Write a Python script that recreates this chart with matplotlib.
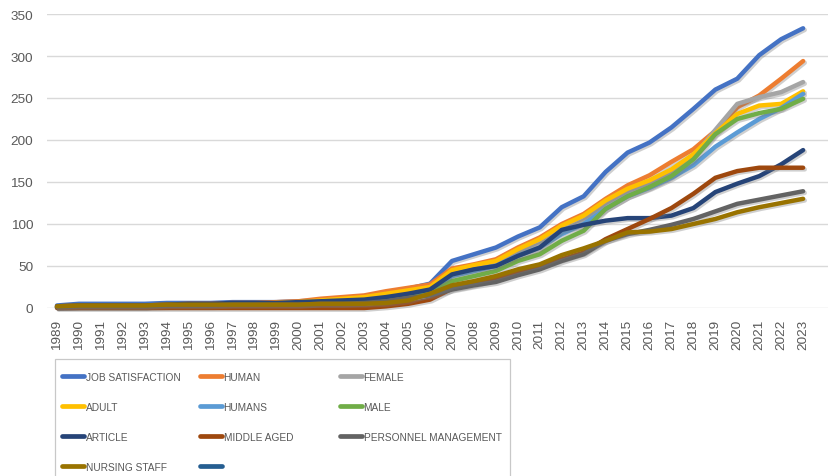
import numpy as np
import matplotlib
matplotlib.use("Agg")
import matplotlib.pyplot as plt
import matplotlib.patheffects as pe
from matplotlib.lines import Line2D
from matplotlib.patches import Rectangle

# === Data ===
years = list(range(1989, 2024))

job_satisfaction = [3, 5, 5, 5, 5, 6, 6, 6, 7, 7, 7, 8, 9, 10, 11, 17, 23, 29,
                    56, 64, 72, 85, 96, 120, 133, 162, 185, 197, 215, 237, 260, 273, 301, 320, 333]
human = [2, 3, 3, 3, 3, 4, 5, 5, 6, 6, 7, 8, 11, 13, 15, 20, 24, 28,
         47, 52, 58, 72, 84, 100, 112, 130, 146, 158, 174, 189, 211, 239, 253, 273, 294]
female = [1, 2, 2, 2, 2, 3, 3, 3, 4, 4, 4, 5, 6, 7, 8, 12, 16, 22,
          43, 49, 54, 66, 76, 92, 104, 124, 138, 148, 162, 180, 212, 243, 251, 257, 269]
adult = [1, 2, 2, 2, 2, 3, 3, 4, 5, 5, 6, 7, 9, 11, 13, 17, 21, 25,
         45, 51, 56, 70, 82, 98, 110, 128, 142, 152, 165, 183, 208, 231, 241, 243, 258]
humans = [1, 2, 2, 2, 2, 3, 3, 3, 4, 4, 4, 5, 6, 7, 8, 12, 16, 20,
          38, 44, 50, 62, 72, 88, 100, 118, 133, 143, 155, 170, 192, 209, 225, 238, 255]
male = [1, 1, 1, 1, 1, 2, 2, 2, 3, 3, 3, 4, 5, 6, 7, 10, 14, 19,
        32, 38, 44, 56, 64, 80, 92, 118, 133, 144, 157, 177, 207, 225, 232, 237, 249]
article = [2, 3, 3, 3, 3, 4, 5, 5, 6, 6, 6, 7, 8, 9, 10, 13, 17, 22,
           40, 46, 50, 62, 72, 93, 99, 104, 107, 107, 110, 119, 138, 148, 157, 171, 188]
middle_aged = [0, 0, 0, 0, 0, 0, 0, 0, 0, 0, 0, 0, 0, 0, 0, 2, 5, 10,
               23, 28, 35, 43, 50, 58, 66, 82, 94, 106, 119, 136, 155, 163, 167, 167, 167]
personnel_mgmt = [1, 2, 2, 2, 2, 3, 3, 3, 4, 4, 4, 4, 5, 5, 6, 8, 12, 15,
                  22, 27, 31, 39, 46, 56, 64, 80, 88, 93, 99, 106, 115, 124, 129, 134, 139]
nursing_staff = [2, 3, 3, 3, 3, 4, 4, 4, 4, 4, 4, 4, 5, 5, 5, 6, 9, 17,
                 27, 32, 38, 46, 52, 63, 71, 80, 90, 91, 94, 100, 106, 114, 120, 125, 130]

labels = ["JOB SATISFACTION", "HUMAN", "FEMALE", "ADULT", "HUMANS", "MALE",
          "ARTICLE", "MIDDLE AGED", "PERSONNEL MANAGEMENT", "NURSING STAFF", " "]
series = [job_satisfaction, human, female, adult, humans, male,
          article, middle_aged, personnel_mgmt, nursing_staff, []]
colors = ["#4472C4", "#ED7D31", "#A5A5A5", "#FFC000", "#5B9BD5", "#70AD47",
          "#264478", "#9E480E", "#636363", "#997300", "#255E91"]

W, H = 829, 477
fig = plt.figure(figsize=(W / 100, H / 100), dpi=100)
ax = fig.add_axes([47 / W, 1 - 309 / H, (829 - 47) / W, (309 - 15) / H])

x = np.arange(len(years))
shadow = [pe.SimpleLineShadow(offset=(1.2, -1.2), shadow_color="#777777", alpha=0.35),
          pe.Normal()]
handles = []
for vals, col, lab in zip(series, colors, labels):
    if len(vals):
        ax.plot(x, vals, color=col, lw=3.2, solid_capstyle="round",
                solid_joinstyle="round", clip_on=False, path_effects=shadow, zorder=3)
    handles.append(Line2D([], [], color=col, lw=3.4, solid_capstyle="round"))

ax.set_ylim(0, 350)
ax.set_yticks(range(0, 351, 50))
ax.set_xlim(-0.456, 35.18)
ax.set_xticks(x)
ax.set_xticklabels([str(y) for y in years], rotation=90, va="top")
ax.grid(axis="y", color="#D9D9D9", lw=1.0)
ax.set_axisbelow(True)
for s in ax.spines.values():
    s.set_visible(False)
ax.tick_params(length=0, colors="#595959", labelsize=9.7)
ax.tick_params(axis="y", pad=10)
ax.tick_params(axis="x", pad=8)
for t in ax.get_xticklabels() + ax.get_yticklabels():
    t.set_family(["Liberation Sans", "DejaVu Sans"])

# --- legend: framed box with three columns ---
fig.patches.append(Rectangle((55 / W, -0.05), (510 - 55) / W, 1 - 360 / H + 0.05,
                             transform=fig.transFigure, fill=False,
                             edgecolor="#C8C8C8", lw=0.9))
leg_size = 7.3
col_x = [62, 200, 340]
for c in range(3):
    idx = list(range(c, len(labels), 3))
    fig.legend([handles[i] for i in idx], [labels[i] for i in idx],
               loc="upper left", bbox_to_anchor=(col_x[c] / W, 1 - 373 / H),
               frameon=False, borderpad=0, borderaxespad=0,
               handlelength=22 / (leg_size * 100 / 72), handletextpad=0.15,
               labelspacing=1.97,
               prop={"family": ["Liberation Sans", "DejaVu Sans"], "size": leg_size},
               labelcolor="#595959")

fig.savefig("out.png", dpi=100)
